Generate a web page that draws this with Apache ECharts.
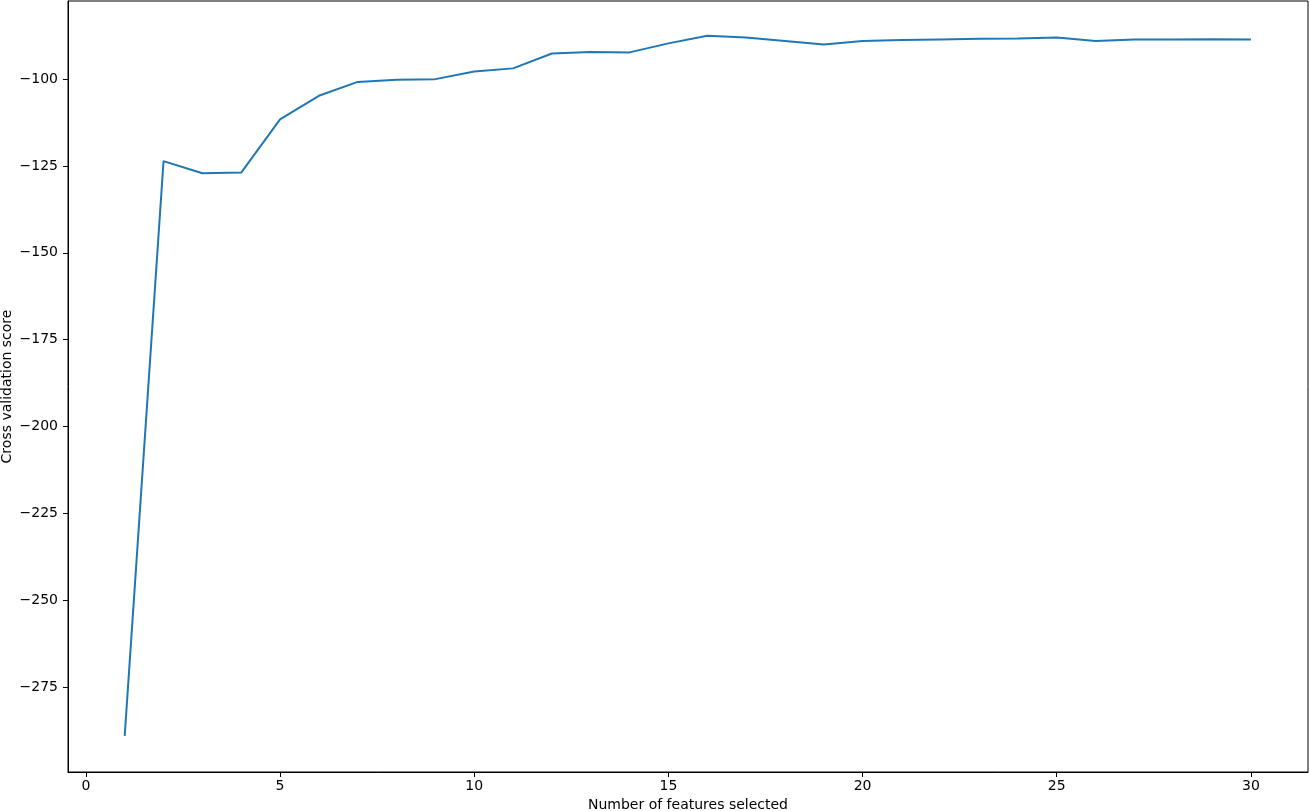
<!DOCTYPE html>
<html>
<head>
<meta charset="utf-8">
<script src="https://cdn.jsdelivr.net/npm/echarts@6/dist/echarts.min.js"></script>
<style>
  html, body { margin: 0; padding: 0; background: #fff; }
  #chart { width: 1310px; height: 811px; }
</style>
</head>
<body>
<div id="chart"></div>
<script>
// number of features -> cross validation score
const features = [1, 2, 3, 4, 5, 6, 7, 8, 9, 10, 11, 12, 13, 14, 15,
  16, 17, 18, 19, 20, 21, 22, 23, 24, 25, 26, 27, 28, 29, 30];
const scores = [-289.1, -123.6, -127.1, -126.9, -111.6, -104.8, -100.8, -100.2, -100.0, -97.8,
  -96.9, -92.6, -92.2, -92.3, -89.7, -87.5, -88.0, -89.0, -90.0, -89.0,
  -88.75, -88.55, -88.4, -88.3, -88.0, -89.0, -88.6, -88.55, -88.5, -88.55];
const xTicks = [0, 5, 10, 15, 20, 25, 30];
const yTicks = [-275, -250, -225, -200, -175, -150, -125, -100];

const font = 'DejaVu Sans';
const minus = v => String(v).replace('-', '\u2212');

let myChart = echarts.init(document.getElementById('chart'));

let option = {
  animation: false,
  textStyle: { fontFamily: font },
  grid: {
    left: 68, right: 2, top: 1, bottom: 39,
    show: true, borderColor: '#000', borderWidth: 1,
    containLabel: false,
    outerBoundsMode: 'none',
  },
  xAxis: {
    type: 'value',
    min: -0.46,
    max: 31.47,
    name: 'Number of features selected',
    nameLocation: 'middle',
    nameGap: 26,
    nameMoveOverlap: false,
    nameTextStyle: { color: '#000', fontSize: 14, fontFamily: font },
    axisLine: { onZero: false, lineStyle: { color: '#000', width: 1 } },
    axisTick: { show: true, length: 5, lineStyle: { color: '#000' }, customValues: xTicks },
    axisLabel: { color: '#000', fontSize: 14, margin: 7, fontFamily: font, customValues: xTicks, formatter: minus },
    splitLine: { show: false },
  },
  yAxis: {
    type: 'value',
    min: -299.5,
    max: -77.5,
    name: 'Cross validation score',
    nameLocation: 'middle',
    nameGap: 54,
    nameMoveOverlap: false,
    nameTextStyle: { color: '#000', fontSize: 14, fontFamily: font },
    axisLine: { show: true, onZero: false, lineStyle: { color: '#000', width: 1 } },
    axisTick: { show: true, length: 5, lineStyle: { color: '#000' }, customValues: yTicks },
    axisLabel: { color: '#000', fontSize: 14, margin: 10, fontFamily: font, customValues: yTicks, formatter: minus },
    splitLine: { show: false },
  },
  series: [
    {
      type: 'line',
      data: features.map((f, i) => [f, scores[i]]),
      showSymbol: false,
      lineStyle: { color: '#1f77b4', width: 2 },
      itemStyle: { color: '#1f77b4' },
    },
  ],
};

myChart.setOption(option);
</script>
</body>
</html>
